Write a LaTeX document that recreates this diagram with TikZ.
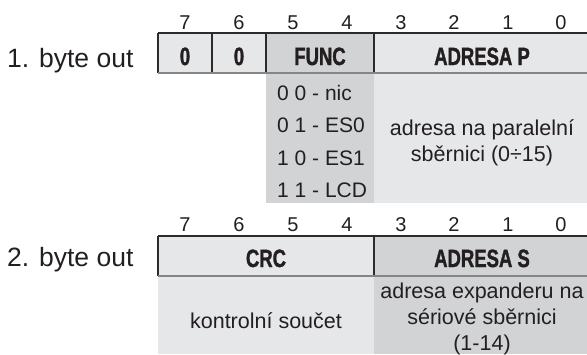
\documentclass[tikz,border=0pt]{standalone}
\usepackage{fontspec}
\setmainfont{Liberation Sans}
\newfontfamily\condbold{Liberation Sans Bold}[FakeStretch=0.74,FakeBold=1.3]
\definecolor{cellA}{HTML}{E6E7E8}
\definecolor{cellB}{HTML}{D1D3D4}
\definecolor{ink}{HTML}{231F20}
\definecolor{rule}{HTML}{2B2B2B}
\definecolor{lowrule}{HTML}{858585}

\begin{document}
\begin{tikzpicture}[x=1bp,y=-1bp,
  cell/.style={rectangle, inner sep=0pt, outer sep=0pt, draw=none},
  bitno/.style={anchor=base, inner sep=0pt, text=ink, font=\fontsize{20bp}{20bp}\selectfont},
  rowlabel/.style={anchor=base west, inner sep=0pt, text=ink, font=\fontsize{26.5bp}{28bp}\selectfont},
  head/.style={anchor=base, inner sep=0pt, text=ink, font=\condbold\fontsize{25bp}{25bp}\selectfont},
  body/.style={anchor=base, inner sep=0pt, text=ink, font=\fontsize{21.5bp}{26bp}\selectfont},
  funcitem/.style={anchor=base west, inner sep=0pt, text=ink, font=\fontsize{21bp}{26bp}\selectfont},
  frame/.style={draw=rule, line width=1.1bp},
  lowframe/.style={draw=lowrule, line width=1.6bp}
]
\useasboundingbox (0,0) rectangle (587,354);

% ---------- first byte ----------
\node[rowlabel] (lab1) at (7,67) {1. byte out};

\foreach \b/\x in {7/185,6/239,5/293,4/347,3/401,2/454,1/508,0/561}
  \node[bitno] (ta\b) at (\x,29) {\b};

\node[cell, fill=cellA, minimum width=54bp, minimum height=40bp] (z7) at (185,53) {};
\node[cell, fill=cellA, minimum width=54bp, minimum height=40bp] (z6) at (239,53) {};
\node[cell, fill=cellB, minimum width=108bp, minimum height=40bp] (func) at (320,53) {};
\node[cell, fill=cellA, minimum width=213bp, minimum height=40bp] (adrp) at (480.5,53) {};

\node[cell, fill=cellB, minimum width=108bp, minimum height=130bp] (funcbody) at (320,138) {};
\node[cell, fill=cellA, minimum width=213bp, minimum height=130bp] (adrpbody) at (480.5,138) {};

\node[head] (tz7) at (185,65) {0};
\node[head] (tz6) at (239,65) {0};
\node[head] (tfunc) at (320,65) {FUNC};
\node[head] (tadrp) at (482,65) {ADRESA P};

\node[funcitem] (f0) at (277,100) {0 0 - nic};
\node[funcitem] (f1) at (277,132.5) {0 1 - ES0};
\node[funcitem] (f2) at (277,165) {1 0 - ES1};
\node[funcitem] (f3) at (277,197) {1 1 - LCD};

\node[body] (dp1) at (482,135) {adresa na paralelní};
\node[body] (dp2) at (482,161) {sběrnici (0÷15)};

\draw[frame] (z7.north west) -- (adrp.north east);
\draw[frame] (z7.north west) -- (z7.south west);
\draw[frame] (z7.north east) -- (z7.south east);
\draw[frame] (z6.north east) -- (z6.south east);
\draw[frame] (func.north east) -- (func.south east);
\draw[lowframe] (z7.south west) -- (adrp.south east);

% ---------- second byte ----------
\node[rowlabel] (lab2) at (7,266) {2. byte out};

\foreach \b/\x in {7/185,6/239,5/293,4/347,3/401,2/454,1/508,0/561}
  \node[bitno] (tb\b) at (\x,231) {\b};

\node[cell, fill=cellA, minimum width=216bp, minimum height=40bp] (crc) at (266,256) {};
\node[cell, fill=cellB, minimum width=213bp, minimum height=40bp] (adrs) at (480.5,256) {};

\node[cell, fill=cellA, minimum width=216bp, minimum height=78bp] (crcbody) at (266,315) {};
\node[cell, fill=cellB, minimum width=213bp, minimum height=78bp] (adrsbody) at (480.5,315) {};

\node[head] (tcrc) at (266,267) {CRC};
\node[head] (tadrs) at (482,267) {ADRESA S};

\node[body] (dc) at (266,328) {kontrolní součet};
\node[body] (ds1) at (482,298) {adresa expanderu na};
\node[body] (ds2) at (482,324) {sériové sběrnici};
\node[body] (ds3) at (482,350) {(1-14)};

\draw[frame] (crc.north west) -- (adrs.north east);
\draw[frame] (crc.north west) -- (crc.south west);
\draw[frame] (crc.north east) -- (crc.south east);
\draw[lowframe] (crc.south west) -- (adrs.south east);
\end{tikzpicture}
\end{document}
